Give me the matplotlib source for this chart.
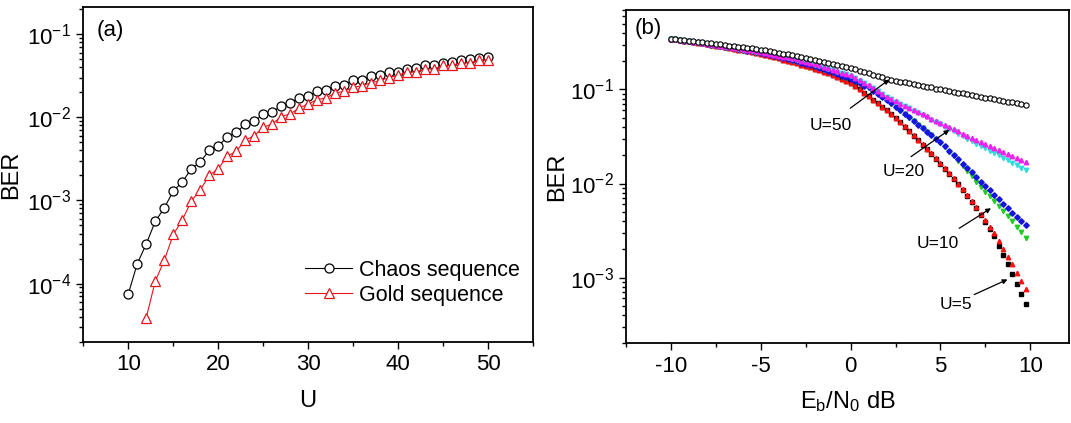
import numpy as np
import matplotlib
matplotlib.use("Agg")
import matplotlib.pyplot as plt
from matplotlib.ticker import LogLocator, MultipleLocator, NullFormatter

plt.rcParams['font.family'] = ['Liberation Sans', 'DejaVu Sans']
plt.rcParams['mathtext.fontset'] = 'custom'
plt.rcParams['mathtext.rm'] = 'Liberation Sans'
plt.rcParams['mathtext.it'] = 'Liberation Sans:italic'
plt.rcParams['mathtext.bf'] = 'Liberation Sans:bold'
plt.rcParams['axes.unicode_minus'] = False

# ---------------- panel (a) data ----------------
u_chaos = list(range(10, 51))
ber_chaos = [7.5e-5, 1.74e-4, 3.0e-4, 5.6e-4, 8.1e-4, 1.3e-3, 1.66e-3, 2.4e-3, 2.9e-3, 4.0e-3,
             4.5e-3, 5.8e-3, 6.6e-3, 8.2e-3, 8.9e-3, 1.09e-2, 1.16e-2, 1.37e-2, 1.49e-2, 1.69e-2,
             1.78e-2, 2.05e-2, 2.15e-2, 2.36e-2, 2.46e-2, 2.77e-2, 2.8e-2, 3.1e-2, 3.2e-2, 3.5e-2,
             3.5e-2, 3.8e-2, 3.9e-2, 4.2e-2, 4.3e-2, 4.5e-2, 4.6e-2, 4.9e-2, 4.96e-2, 5.2e-2, 5.3e-2]
u_gold = list(range(12, 51))
ber_gold = [3.9e-5, 1.07e-4, 1.9e-4, 3.9e-4, 5.8e-4, 9.8e-4, 1.34e-3, 2.0e-3, 2.4e-3, 3.4e-3,
            3.9e-3, 5.3e-3, 6.0e-3, 7.6e-3, 8.3e-3, 1.02e-2, 1.1e-2, 1.29e-2, 1.45e-2, 1.63e-2,
            1.71e-2, 1.96e-2, 2.05e-2, 2.29e-2, 2.4e-2, 2.6e-2, 2.77e-2, 3.0e-2, 3.2e-2, 3.5e-2,
            3.5e-2, 3.8e-2, 3.8e-2, 4.2e-2, 4.2e-2, 4.5e-2, 4.5e-2, 4.9e-2, 4.9e-2]

# ---------------- panel (b) data ----------------
ebn0_db = np.round(np.arange(-10.0, 9.76, 0.25), 2)

ber_u50_chaos = [0.348, 0.344, 0.339, 0.335, 0.331, 0.327, 0.323, 0.318, 0.314, 0.310,
                 0.305, 0.301, 0.297, 0.293, 0.289, 0.285, 0.281, 0.277, 0.274, 0.270,
                 0.266, 0.261, 0.256, 0.251, 0.246, 0.241, 0.236, 0.231, 0.226, 0.221,
                 0.215, 0.210, 0.206, 0.201, 0.196, 0.192, 0.188, 0.183, 0.179, 0.175,
                 0.170, 0.164, 0.159, 0.154, 0.149, 0.144, 0.139, 0.135, 0.130, 0.127,
                 0.124, 0.121, 0.119, 0.116, 0.114, 0.111, 0.109, 0.107, 0.105, 0.102,
                 0.100, 0.0982, 0.0962, 0.0944, 0.0925, 0.0906, 0.0888, 0.0871, 0.0853, 0.0836,
                 0.0818, 0.0802, 0.0785, 0.0771, 0.0755, 0.0741, 0.0728, 0.0714, 0.0700, 0.0687]

ber_magenta = [0.347, 0.342, 0.337, 0.332, 0.327, 0.322, 0.317, 0.313, 0.308, 0.303,
               0.298, 0.293, 0.288, 0.283, 0.279, 0.274, 0.269, 0.264, 0.260, 0.255,
               0.251, 0.245, 0.240, 0.234, 0.229, 0.224, 0.219, 0.214, 0.209, 0.203,
               0.197, 0.191, 0.186, 0.180, 0.174, 0.168, 0.162, 0.157, 0.151, 0.146,
               0.141, 0.133, 0.125, 0.118, 0.111, 0.104, 0.0966, 0.0902, 0.0841, 0.0794,
               0.0750, 0.0708, 0.0668, 0.0634, 0.0603, 0.0572, 0.0543, 0.0516, 0.0490, 0.0465,
               0.0442, 0.0419, 0.0398, 0.0378, 0.0359, 0.0340, 0.0322, 0.0305, 0.0288, 0.0275,
               0.0261, 0.0249, 0.0237, 0.0226, 0.0215, 0.0205, 0.0195, 0.0186, 0.0178, 0.0170]

ber_cyan = [0.344, 0.339, 0.334, 0.329, 0.324, 0.319, 0.314, 0.310, 0.305, 0.300,
            0.295, 0.290, 0.285, 0.280, 0.276, 0.271, 0.266, 0.261, 0.257, 0.252,
            0.248, 0.243, 0.238, 0.232, 0.227, 0.222, 0.217, 0.212, 0.207, 0.201,
            0.195, 0.189, 0.184, 0.178, 0.172, 0.166, 0.160, 0.155, 0.149, 0.145,
            0.140, 0.132, 0.124, 0.117, 0.110, 0.103, 0.0956, 0.0893, 0.0833, 0.0786,
            0.0743, 0.0701, 0.0661, 0.0628, 0.0597, 0.0566, 0.0537, 0.0507, 0.0479, 0.0452,
            0.0427, 0.0403, 0.0380, 0.0359, 0.0339, 0.0319, 0.0300, 0.0282, 0.0266, 0.0251,
            0.0237, 0.0224, 0.0211, 0.0199, 0.0187, 0.0176, 0.0166, 0.0156, 0.0147, 0.0138]

ber_blue = [0.347, 0.341, 0.336, 0.331, 0.326, 0.321, 0.316, 0.310, 0.305, 0.300,
            0.295, 0.290, 0.285, 0.280, 0.274, 0.269, 0.264, 0.259, 0.254, 0.249,
            0.244, 0.239, 0.234, 0.229, 0.224, 0.217, 0.211, 0.205, 0.200, 0.193,
            0.187, 0.182, 0.176, 0.170, 0.164, 0.158, 0.153, 0.147, 0.140, 0.135,
            0.129, 0.122, 0.116, 0.110, 0.105, 0.0971, 0.0902, 0.0836, 0.0776, 0.0711,
            0.0653, 0.0599, 0.0550, 0.0504, 0.0462, 0.0424, 0.0389, 0.0356, 0.0327, 0.0300,
            0.0275, 0.0248, 0.0224, 0.0202, 0.0182, 0.0163, 0.0146, 0.0131, 0.0117, 0.0105,
            0.00944, 0.00846, 0.00759, 0.00680, 0.00610, 0.00546, 0.00490, 0.00442, 0.00398, 0.00359]

ber_green = [0.344, 0.338, 0.333, 0.328, 0.323, 0.318, 0.313, 0.307, 0.302, 0.297,
             0.292, 0.287, 0.282, 0.277, 0.271, 0.266, 0.261, 0.256, 0.251, 0.247,
             0.242, 0.237, 0.232, 0.227, 0.222, 0.215, 0.209, 0.203, 0.198, 0.191,
             0.185, 0.180, 0.174, 0.168, 0.162, 0.156, 0.151, 0.146, 0.139, 0.134,
             0.128, 0.121, 0.115, 0.109, 0.104, 0.0961, 0.0893, 0.0828, 0.0768, 0.0704,
             0.0646, 0.0593, 0.0545, 0.0499, 0.0457, 0.0420, 0.0385, 0.0352, 0.0324, 0.0297,
             0.0272, 0.0243, 0.0217, 0.0195, 0.0174, 0.0153, 0.0135, 0.0119, 0.0105, 0.00927,
             0.00822, 0.00728, 0.00646, 0.00572, 0.00507, 0.00449, 0.00398, 0.00347, 0.00302, 0.00263]

ber_red = [0.347, 0.341, 0.336, 0.330, 0.325, 0.320, 0.314, 0.309, 0.304, 0.299,
           0.292, 0.287, 0.282, 0.276, 0.270, 0.265, 0.260, 0.254, 0.248, 0.243,
           0.237, 0.231, 0.225, 0.220, 0.215, 0.208, 0.202, 0.196, 0.191, 0.184,
           0.178, 0.172, 0.166, 0.160, 0.154, 0.148, 0.143, 0.136, 0.129, 0.123,
           0.117, 0.108, 0.100, 0.0923, 0.0851, 0.0780, 0.0716, 0.0656, 0.0603, 0.0546,
           0.0495, 0.0449, 0.0407, 0.0365, 0.0327, 0.0293, 0.0263, 0.0234, 0.0209, 0.0186,
           0.0166, 0.0146, 0.0129, 0.0114, 0.0100, 0.00865, 0.00750, 0.00649, 0.00562, 0.00479,
           0.00407, 0.00347, 0.00295, 0.00244, 0.00202, 0.00167, 0.00138, 0.00113, 0.000927, 0.000759]

ber_black = [0.347, 0.341, 0.336, 0.330, 0.325, 0.320, 0.314, 0.309, 0.304, 0.299,
             0.292, 0.287, 0.282, 0.276, 0.270, 0.265, 0.260, 0.254, 0.248, 0.243,
             0.237, 0.231, 0.225, 0.220, 0.215, 0.208, 0.202, 0.196, 0.191, 0.184,
             0.178, 0.172, 0.166, 0.160, 0.154, 0.148, 0.143, 0.136, 0.129, 0.123,
             0.117, 0.108, 0.100, 0.0923, 0.0851, 0.0780, 0.0716, 0.0656, 0.0603, 0.0546,
             0.0495, 0.0449, 0.0403, 0.0361, 0.0323, 0.0288, 0.0258, 0.0230, 0.0205, 0.0182,
             0.0162, 0.0143, 0.0126, 0.0111, 0.00977, 0.00845, 0.00733, 0.00634, 0.00550, 0.00462,
             0.00389, 0.00327, 0.00275, 0.00219, 0.00174, 0.00138, 0.00110, 0.000857, 0.000671, 0.000525]

# ---------------- figure ----------------
fig = plt.figure(figsize=(10.71, 4.23), dpi=100)
ax1 = fig.add_axes([0.0778, 0.1922, 0.4199, 0.7905])
ax2 = fig.add_axes([0.5845, 0.1884, 0.4136, 0.788])

FS = 16

def style_axes(ax):
    for sp in ax.spines.values():
        sp.set_linewidth(1.3)
    ax.tick_params(which='both', direction='out', top=False, right=False,
                   labelsize=FS, width=1.0)
    ax.tick_params(which='major', length=5, pad=4)
    ax.tick_params(which='minor', length=3)
    ax.set_yscale('log')
    ax.yaxis.set_major_locator(LogLocator(base=10, numticks=10))
    ax.yaxis.set_minor_locator(LogLocator(base=10, subs=np.arange(2, 10), numticks=10))
    ax.yaxis.set_minor_formatter(NullFormatter())

# ---- (a) ----
style_axes(ax1)
ax1.plot(u_chaos, ber_chaos, color='black', lw=0.8, marker='o', ms=6.5,
         mfc='white', mec='black', mew=0.9, label='Chaos sequence')
ax1.plot(u_gold, ber_gold, color='#e8141c', lw=0.8, marker='^', ms=7,
         mfc='white', mec='#e8141c', mew=0.9, label='Gold sequence')
ax1.set_xlim(5, 55)
ax1.set_ylim(2e-5, 0.21)
ax1.xaxis.set_major_locator(MultipleLocator(10))
ax1.xaxis.set_minor_locator(MultipleLocator(5))
ax1.set_xlabel('U', fontsize=FS + 1, labelpad=11)
ax1.set_ylabel('BER', fontsize=FS + 1, labelpad=3)
ax1.text(0.03, 0.932, '(a)', transform=ax1.transAxes, fontsize=16, va='center', ha='left')
ax1.legend(loc='center left', bbox_to_anchor=(0.493, 0.176), frameon=False, fontsize=15.5,
           handlelength=2.2, handletextpad=0.3, labelspacing=0.2, borderpad=0, borderaxespad=0)

# ---- (b) ----
style_axes(ax2)
ms_b = 3.2
ax2.plot(ebn0_db, ber_black, ls='none', marker='s', ms=2.8, color='black')
ax2.plot(ebn0_db, ber_red, ls='none', marker='^', ms=ms_b, color='#ff1010')
ax2.plot(ebn0_db, ber_green, ls='none', marker='v', ms=ms_b, color='#22cc22')
ax2.plot(ebn0_db, ber_blue, ls='none', marker='D', ms=2.8, color='#1515e0')
ax2.plot(ebn0_db, ber_cyan, ls='none', marker='v', ms=ms_b, color='#33dddd')
ax2.plot(ebn0_db, ber_magenta, ls='none', marker='^', ms=ms_b, color='#ee22ee')
ax2.plot(ebn0_db, ber_u50_chaos, ls='none', marker='o', ms=3.8, mfc='white', mec='black', mew=0.8)
ax2.set_xlim(-12.5, 12.15)
ax2.set_ylim(2e-4, 0.7)
ax2.xaxis.set_major_locator(MultipleLocator(5))
ax2.xaxis.set_minor_locator(MultipleLocator(2.5))
ax2.set_xlabel(r'E$_\mathregular{b}$/N$_\mathregular{0}$ dB', fontsize=FS + 1, labelpad=9)
ax2.set_ylabel('BER', fontsize=FS + 1, labelpad=1)
ax2.text(0.02, 0.943, '(b)', transform=ax2.transAxes, fontsize=16, va='center', ha='left')

arrow_kw = dict(arrowstyle='-|>', color='black', lw=0.9, mutation_scale=7, shrinkA=0, shrinkB=0)
annots = [
    ('U=50', (-1.10, 0.0418), (-0.02, 0.0632), (2.15, 0.1276)),
    ('U=20', (2.93, 0.0133), (3.36, 0.0193), (5.49, 0.0372)),
    ('U=10', (4.84, 0.00232), (6.04, 0.00334), (7.81, 0.00546)),
    ('U=5', (5.86, 0.000513), (6.88, 0.00066), (8.73, 0.000955)),
]
for label, txt_pos, tail, tip in annots:
    ax2.annotate('', xy=tip, xytext=tail, arrowprops=arrow_kw)
    ax2.text(txt_pos[0], txt_pos[1], label, fontsize=12.5, ha='center', va='center')

fig.savefig('out.png', dpi=100)
